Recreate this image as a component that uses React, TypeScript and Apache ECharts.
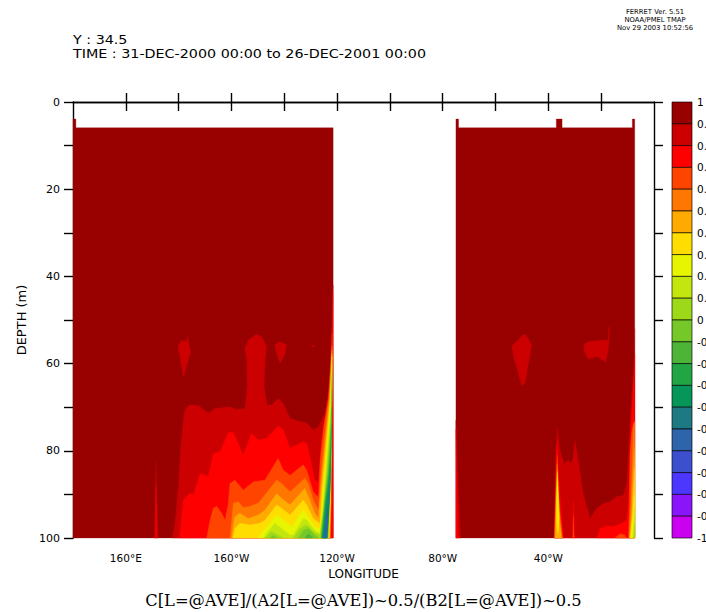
import React, { useEffect, useRef } from "react";
import * as echarts from "echarts";

type Pt = [number, number];

const colorbarTicks = [1, 0.9, 0.8, 0.7, 0.6, 0.5, 0.4, 0.3, 0.2, 0.1, 0, -0.1, -0.2, -0.3, -0.4, -0.5, -0.6, -0.7, -0.8, -0.9, -1];
const bandColors = ["#990000", "#cc0000", "#ff0000", "#ff4400", "#ff7700", "#ffaa00", "#ffdd00", "#e8f500", "#c4e60f", "#9dd918", "#75c828", "#4db437", "#22a645", "#06965a", "#1e7a82", "#2d64aa", "#3c50cd", "#4b37ff", "#8a14fa", "#cc00f0"];
const lonTicks = [160, 180, 200, 220, 240, 260, 280, 300, 320, 340];
const lonLabelValues = [160, 200, 240, 280, 320];
const lonLabels: Record<number, string> = { 160: "160°E", 200: "160°W", 240: "120°W", 280: "80°W", 320: "40°W" };

// Value above 0.9: ocean domain
const contourDomain: Pt[][] = [
  [[140, 100], [140, 3.9], [141.1, 3.9], [141.1, 5.9], [238.5, 5.9], [238.5, 100]],
  [[285, 100], [285, 3.9], [286, 3.9], [286, 5.9], [323, 5.9], [323, 3.9], [325.2, 3.9], [325.2, 5.9], [351.8, 5.9], [351.8, 3.9], [352.7, 3.9], [352.7, 100]],
];
const contour09: Pt[][] = [
  [[177.7, 100], [178.6, 96.6], [179.9, 88.2], [180.8, 79.1], [181.8, 72.9], [182.4, 70.6], [184.05, 69.5], [187.5, 69.6], [191.2, 71.4], [193.8, 70.3], [199.4, 69.9], [202, 70.5], [205.1, 70.3], [206, 65.3], [205.8, 59.2], [205.1, 56.5], [206.4, 54.6], [209.3, 53.3], [211.4, 53.8], [213.3, 56.1], [212.7, 59.9], [212.3, 65.3], [213.6, 69.5], [215.2, 69.5], [217.7, 68], [219.6, 69.1], [222.2, 72.6], [228.5, 73.7], [231, 75.2], [232.9, 74.5], [235.4, 71.4], [236.6, 67], [237.4, 62], [238, 54], [238.3, 43], [238.5, 42], [238.5, 100]],
  [[170.9, 100], [171.2, 90], [171.45, 82.5], [171.7, 90], [172.3, 100]],
  [[179.9, 55.7], [181.1, 54.7], [182.8, 55], [183.4, 53.7], [183.9, 55.4], [184.6, 57.3], [184.05, 58.4], [181.8, 63.1], [180.5, 58.4], [179.9, 56.9]],
  [[216.5, 55.7], [218.1, 55], [220.9, 55.7], [220.3, 57.6], [218.4, 59.9], [217.1, 57.6]],
  [[230.6, 56], [231.6, 55.7], [231.2, 56.3], [230.6, 56.2]],
  [[285, 73], [285.6, 85], [286.8, 100], [285, 100]],
  [[306.1, 56], [310.5, 53.4], [311.5, 53.4], [313.7, 55.7], [311.2, 64.5], [309.9, 65.1], [307, 58.8]],
  [[333.6, 55.5], [335.1, 55], [340.8, 54.6], [342.5, 54.7], [343, 51.5], [343.3, 51.5], [342.7, 56.9], [341.7, 59.6], [338.3, 58.4], [335.1, 59], [333.6, 57.3]],
  [[322.1, 100], [322.8, 80.6], [323.4, 74.5], [324.4, 79.8], [325.9, 82.9], [327.6, 82.1], [328.4, 82.9], [329.2, 82.1], [330.1, 77.5], [331.3, 82.1], [333.2, 89.8], [335.8, 95.5], [338.3, 93.2], [340.8, 92.1], [343.3, 91.7], [345.9, 90.5], [348.4, 90.2], [349.7, 87.5], [350.9, 73], [352.2, 62], [352.6, 56], [352.7, 52], [352.7, 100]],
];
const contour08: Pt[][] = [
  [[180.3, 100], [181.8, 91.3], [184.05, 89.8], [185.6, 90.1], [188.1, 85.2], [191.2, 85.9], [193.1, 80.6], [195.7, 80.2], [198.8, 75.8], [200.7, 75.8], [202.6, 78.3], [204.5, 81], [207.6, 76], [210.2, 77.5], [213.3, 77.1], [217.7, 74.3], [219.6, 75.2], [222.2, 79.4], [227.2, 77.9], [228.5, 78.3], [229.7, 81.3], [231.6, 86.7], [232.9, 87.1], [234.2, 76.8], [235.8, 71.4], [237.3, 64.5], [238.1, 50.8], [238.4, 44], [238.5, 100]],
  [[171.2, 100], [171.42, 88], [171.6, 100]],
  [[285, 75], [285.4, 88], [285.7, 100], [285, 100]],
  [[322.2, 100], [322.7, 90], [323, 80], [323.3, 78], [323.8, 85], [324.6, 92], [325.7, 100]],
  [[329.1, 100], [329.5, 91.5], [330, 100]],
  [[338.3, 100], [339.6, 97.8], [342.1, 97.2], [344.6, 97.4], [347.8, 96.6], [349.7, 95.9], [350.3, 92], [350.9, 82], [351.5, 72], [352.2, 65], [352.6, 60], [352.7, 58], [352.7, 100]],
];
const contour07: Pt[][] = [
  [[190.6, 100], [191.9, 95.9], [193.1, 93.2], [194.4, 92.7], [196.3, 94.3], [197.6, 95.9], [198.8, 92], [199.4, 87.5], [201.3, 86.7], [204.5, 89], [208.3, 87.1], [212.7, 86.7], [217.7, 81.7], [219.6, 84.4], [222.2, 85.6], [227.2, 83.2], [228.5, 84.4], [231, 89.4], [232.9, 90.6], [233.6, 82], [235, 74], [236.7, 68], [238.1, 55], [238.15, 53], [238.2, 60], [238.05, 80], [237.8, 92], [237.5, 100]],
  [[322.3, 100], [322.8, 90], [323.1, 84], [323.4, 81], [323.7, 88], [324.4, 94], [325.4, 100]],
  [[329.3, 100], [329.5, 95], [329.7, 100]],
  [[345.2, 100], [347.1, 99], [349, 99.3], [349.6, 100]],
  [[350.3, 100], [350.7, 92], [350.9, 80.6], [351.5, 76], [352.2, 73.7], [352.7, 73], [352.7, 100]],
];
const contour06: Pt[][] = [
  [[199.4, 100], [200.1, 95.9], [200.7, 92], [202.6, 91.7], [204.5, 93], [207, 92.7], [210.2, 92], [212.7, 90.1], [217.1, 86.7], [219, 87.5], [222.2, 89.4], [227.8, 86.3], [229.1, 87.5], [231, 91.3], [232.9, 93.6], [233.9, 85], [235.4, 76], [237, 67.5], [238.1, 56.1], [238, 65], [237.95, 80], [237.65, 92], [237.35, 100]],
  [[322.4, 100], [322.9, 90], [323.2, 85], [323.4, 83], [323.7, 89], [324.3, 95], [325.2, 100]],
  [[350.5, 100], [351.2, 92.8], [351.8, 82], [352.2, 74.5], [352.7, 73.5], [352.7, 100]],
];
const contour05: Pt[][] = [
  [[200.1, 100], [200.7, 97], [201.3, 95.1], [203.2, 94.3], [206.4, 95.5], [210.2, 94.7], [212.7, 93.6], [217.1, 89.8], [219, 90.9], [222.2, 92.4], [227.8, 88.6], [229.7, 91.3], [231.6, 94.3], [232.9, 95.5], [234.1, 87], [235.7, 77], [237.2, 68], [238.1, 56.9], [237.95, 68], [237.85, 80], [237.55, 92], [237.2, 100]],
  [[322.6, 100], [323, 90], [323.3, 86], [323.5, 84.5], [323.7, 90], [324.2, 96], [325, 100]],
  [[350.8, 100], [351.5, 94.4], [352.2, 84.4], [352.7, 79], [352.7, 100]],
];
const contour04: Pt[][] = [
  [[200.5, 100], [201.3, 97.8], [203.2, 96.6], [207, 97], [210.8, 96.6], [212.7, 95.9], [217.1, 92.4], [219, 93.2], [222.2, 94.7], [227.2, 91.3], [228.5, 92.4], [231, 95.5], [233.5, 96.6], [234.3, 89], [235.9, 78.3], [237.4, 68], [238.1, 57.7], [237.9, 70], [237.8, 80], [237.45, 92], [237, 100]],
  [[323.1, 97], [323.2, 90], [323.45, 85], [323.7, 90], [324.1, 95], [323.9, 98], [323.5, 99]],
  [[351, 100], [351.8, 95], [352.4, 87.5], [352.7, 83.7], [352.7, 100]],
];
const contour03: Pt[][] = [
  [[210.2, 100], [211, 99], [213.3, 97.4], [217.1, 94.7], [219, 95.5], [222.8, 97.4], [227.2, 93.6], [228.5, 94.7], [231.6, 97.4], [233.5, 97.8], [234.5, 91], [236.1, 80], [237.5, 69], [238.1, 58.4], [237.85, 72], [237.72, 80], [237.35, 92], [236.8, 100]],
  [[323.25, 93], [323.4, 88], [323.55, 87], [323.8, 92], [323.8, 96], [323.5, 97]],
  [[351.1, 100], [351.9, 96], [352.7, 89.8], [352.7, 100]],
];
const contour02: Pt[][] = [
  [[212.1, 100], [213.3, 98.9], [216.5, 96.6], [219, 97.8], [222.2, 99.3], [223.4, 99.3], [227.2, 95.5], [228.5, 95.9], [231.6, 98.2], [233.5, 98.9], [234.6, 92.8], [236.2, 81.4], [237.6, 70.7], [238.1, 60], [237.8, 74], [237.65, 80], [237.25, 92], [236.7, 100]],
  [[352, 100], [352.3, 97], [352.7, 93], [352.7, 100]],
];
const contour01: Pt[][] = [
  [[212.7, 100], [215.2, 98.5], [217.7, 99.3], [219.6, 100]],
  [[223.4, 100], [225.9, 97.8], [228.5, 97], [231.6, 98.8], [233.5, 99.3], [234.8, 94.4], [236.3, 83], [237.7, 72.2], [238.1, 61.5], [237.75, 76], [237.55, 82], [237.15, 92], [236.6, 100]],
  [[352.3, 100], [352.7, 96.5], [352.7, 100]],
];
const contour00: Pt[][] = [
  [[214.6, 100], [215.8, 99.4], [217.1, 100]],
  [[225.3, 100], [227.2, 98.2], [229.1, 97.8], [231.6, 99.3], [232.9, 100]],
  [[233.8, 100], [235, 93], [236.5, 84], [237.75, 73.7], [238.1, 63], [237.7, 78], [237.45, 84], [237.05, 92], [236.5, 100]],
];
const contourM01: Pt[][] = [
  [[227.8, 100], [229.1, 99], [231, 100]],
  [[234, 100], [235.3, 92], [236.7, 85], [237.8, 75], [238, 66], [237.65, 80], [237.35, 86], [236.95, 93], [236.4, 100]],
];
const contourM02: Pt[][] = [
  [[234.2, 100], [235.5, 92], [236.8, 86], [237.8, 77], [237.95, 70], [237.6, 82], [237.25, 88], [236.85, 94], [236.3, 100]],
];
const contourM03: Pt[][] = [
  [[234.4, 100], [235.7, 93], [236.9, 87], [237.75, 80], [237.9, 74], [237.55, 84], [237.15, 90], [236.75, 95], [236.2, 100]],
];
const contourM04: Pt[][] = [
  [[234.7, 100], [235.8, 95], [236.8, 90], [237.7, 84], [237.35, 89], [236.9, 93], [236.6, 96], [236.1, 100]],
];
const contourM05: Pt[][] = [
  [[235, 100], [235.8, 96.5], [236.5, 93], [236.55, 95.5], [236.2, 97.5], [235.9, 100]],
];
const contourLevels: Pt[][][] = [contourDomain, contour09, contour08, contour07, contour06, contour05, contour04, contour03, contour02, contour01, contour00, contourM01, contourM02, contourM03, contourM04, contourM05];

const headerLine1 = "Y : 34.5";
const headerLine2 = "TIME : 31-DEC-2000 00:00 to 26-DEC-2001 00:00";
const ferretLines = ["FERRET Ver. 5.51", "NOAA/PMEL TMAP", "Nov 29 2003 10:52:56"];
const formula = "C[L=@AVE]/(A2[L=@AVE])~0.5/(B2[L=@AVE])~0.5";

const SANS = "'DejaVu Sans', sans-serif";

export default function App() {
  const ref = useRef<HTMLDivElement>(null);
  useEffect(() => {
    document.body.style.margin = "0";
    document.body.style.overflow = "hidden";
    const chart = echarts.init(ref.current!, undefined, { renderer: "svg" });
    const shapes: { pts: Pt[]; color: string }[] = [];
    contourLevels.forEach((polys, i) => polys.forEach((pts) => shapes.push({ pts, color: bandColors[i] })));
    const cells = bandColors.map((color, i) => ({ hi: colorbarTicks[i], lo: colorbarTicks[i + 1], color }));
    const axisLine = { show: true, lineStyle: { color: "#000", width: 1.4 } };
    const axisTick = { show: true, length: 9, lineStyle: { color: "#000", width: 1.4 } };
    chart.setOption({
      animation: false,
      backgroundColor: "#fff",
      grid: [
        { left: 73, right: 52, top: 102, bottom: 74, outerBoundsMode: "none" },
        { left: 672, width: 20, top: 102, bottom: 74, outerBoundsMode: "none" },
      ],
      xAxis: [
        {
          type: "value", gridIndex: 0, position: "bottom", min: 140, max: 360, splitLine: { show: false }, axisLine,
          axisTick: { ...axisTick, customValues: lonTicks },
          axisLabel: { customValues: lonLabelValues, formatter: (v: number) => lonLabels[v] ?? "", fontFamily: SANS, fontSize: 10.5, color: "#000", margin: 14 },
          name: "LONGITUDE", nameLocation: "middle", nameGap: 30, nameTextStyle: { fontFamily: SANS, fontSize: 12, color: "#000" },
        },
        {
          type: "value", gridIndex: 0, position: "top", min: 140, max: 360, splitLine: { show: false }, axisLine,
          axisTick: { ...axisTick, customValues: lonTicks }, axisLabel: { show: false },
        },
        { type: "value", gridIndex: 1, min: 0, max: 1, show: false },
      ],
      yAxis: [
        {
          type: "value", gridIndex: 0, position: "left", min: 0, max: 100, interval: 10, inverse: true, splitLine: { show: false }, axisLine, axisTick,
          axisLabel: { formatter: (v: number) => (v % 20 === 0 ? String(v) : ""), fontFamily: SANS, fontSize: 11, color: "#000", margin: 13 },
          name: "DEPTH (m)", nameLocation: "middle", nameGap: 38, nameTextStyle: { fontFamily: SANS, fontSize: 13, color: "#000" },
        },
        {
          type: "value", gridIndex: 0, position: "right", min: 0, max: 100, interval: 10, inverse: true, splitLine: { show: false }, axisLine, axisTick, axisLabel: { show: false },
        },
        {
          type: "value", gridIndex: 1, position: "right", min: -1, max: 1, splitLine: { show: false }, axisLine: { show: false }, axisTick: { show: false },
          axisLabel: {
            customValues: colorbarTicks, hideOverlap: false, fontFamily: SANS, fontSize: 10.5, color: "#000", margin: 5,
            formatter: (v: number) => String(Number(v.toFixed(1))),
          },
        },
      ],
      series: [
        {
          type: "custom", xAxisIndex: 0, yAxisIndex: 0, silent: true, clip: false,
          data: shapes.map((s) => ({ value: s.pts[0] })),
          renderItem: (p: any, api: any) => {
            const s = shapes[p.dataIndex];
            return { type: "polygon", shape: { points: s.pts.map((q) => api.coord(q)) }, style: { fill: s.color, stroke: s.color, lineWidth: 0.3 } };
          },
        },
        {
          type: "custom", xAxisIndex: 2, yAxisIndex: 2, silent: true,
          data: cells.map((c) => ({ value: [0, c.hi] })),
          renderItem: (p: any, api: any) => {
            const c = cells[p.dataIndex];
            const a = api.coord([0, c.hi]);
            const b = api.coord([1, c.lo]);
            return { type: "rect", shape: { x: a[0], y: a[1], width: b[0] - a[0], height: b[1] - a[1] }, style: { fill: c.color, stroke: "rgba(0,0,0,0.65)", lineWidth: 1 } };
          },
        },
      ],
      graphic: [
        { type: "text", x: 73, y: 33, scaleX: 1.145, style: { text: headerLine1, font: `12.5px ${SANS}`, fill: "#000" } },
        { type: "text", x: 73, y: 47, scaleX: 1.145, style: { text: headerLine2, font: `12.5px ${SANS}`, fill: "#000" } },
        ...ferretLines.map((t, i) => ({ type: "text", x: 655, y: 8 + i * 8, style: { text: t, font: `6.8px ${SANS}`, fill: "#000", textAlign: "center" } })),
        { type: "text", x: 363.5, y: 592, style: { text: formula, font: "16.3px 'DejaVu Serif', serif", fill: "#000", textAlign: "center" } },
      ],
    });
    return () => chart.dispose();
  }, []);
  return <div ref={ref} style={{ width: 706, height: 612 }} />;
}
